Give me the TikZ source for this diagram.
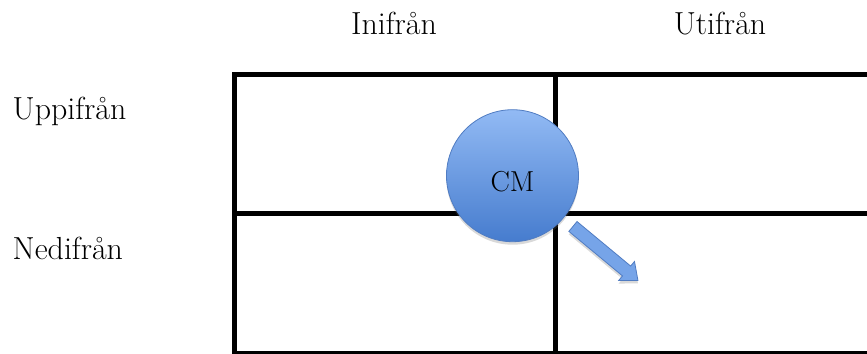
\documentclass[tikz,border=0pt]{standalone}
\usetikzlibrary{shapes.arrows,shadows}
\definecolor{cmtop}{RGB}{146,186,244}
\definecolor{cmbot}{RGB}{70,124,206}
\definecolor{cmedge}{RGB}{80,124,194}
\definecolor{arrfill}{RGB}{118,164,232}
\begin{document}
\begin{tikzpicture}[x=1bp,y=-1bp,
  font=\fontsize{32}{38}\selectfont,
  lbl/.style={anchor=base, inner sep=0},
  gridline/.style={line width=5bp, draw=black},
  softshadow/.style={drop shadow={shadow xshift=0bp, shadow yshift=-3bp, opacity=0.25, fill=black!60}}]
\useasboundingbox (0,0) rectangle (867,353);
% grid
\coordinate (tl) at (234,74);
\coordinate (br) at (880,353.5);
\coordinate (mt) at (555,74);
\coordinate (mb) at (555,353.5);
\coordinate (ml) at (234,213);
\coordinate (mr) at (880,213);
\draw[gridline] (tl) rectangle (br);
\draw[gridline] (mt) -- (mb);
\draw[gridline] (ml) -- (mr);
% labels
\node[lbl] (ini) at (394,34) {Inifrån};
\node[lbl] (uti) at (720,34) {Utifrån};
\node[lbl, anchor=base west] (upp) at (12.5,119) {Uppifrån};
\node[lbl, anchor=base west] (ned) at (12.5,259) {Nedifrån};
% circle
\node[circle, minimum size=132bp, inner sep=0, top color=cmtop, bottom color=cmbot,
      draw=cmedge, line width=0.8bp, softshadow] (cm) at (512.5,175.7) {};
\node[lbl, font=\fontsize{29}{34}\selectfont] (cmtext) at (512.5,191.5) {CM};
% arrow
\node[single arrow, draw=cmedge, line width=0.8bp, fill=arrfill, inner xsep=0bp, inner ysep=6bp,
      minimum height=84.5bp, single arrow head extend=6bp, single arrow tip angle=80,
      rotate=-39.7, softshadow] (arr) at (602.5,251) {};
\end{tikzpicture}
\end{document}
